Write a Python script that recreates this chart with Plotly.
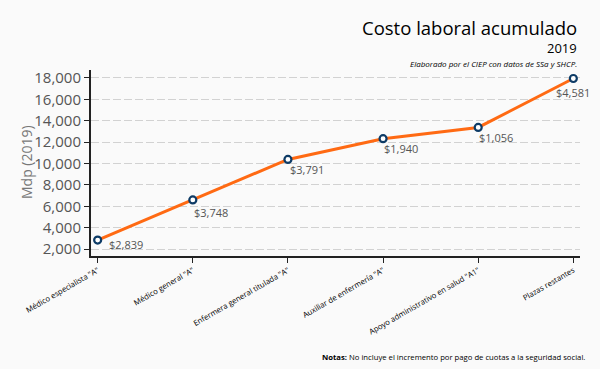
import plotly.graph_objects as go

categories = ['Médico especialista "A"', 'Médico general "A"', 'Enfermera general titulada "A"',
              'Auxiliar de enfermería "A"', 'Apoyo administrativo en salud "A1"', 'Plazas restantes']
increments = [2839, 3748, 3791, 1940, 1056, 4581]
cumulative = [2839, 6587, 10378, 12318, 13374, 17955]
point_labels = ["$2,839", "$3,748", "$3,791", "$1,940", "$1,056", "$4,581"]
y_ticks = [2000, 4000, 6000, 8000, 10000, 12000, 14000, 16000, 18000]

# label placement (style only)
label_anchor = ["left", "left", "left", "left", "left", "center"]
label_xshift = [9, -1, 0, -1, -1, 0]
label_yshift = [-4, -13, -10, -10, -10, -14]

font = "Open Sans"
L, R, T, B = 91, 20, 70, 113
W, H = 600, 369

fig = go.Figure()
fig.add_trace(go.Scatter(
    x=list(range(len(categories))), y=cumulative,
    mode="lines+markers",
    line=dict(color="#ff6a13", width=3),
    marker=dict(size=7, color="white", line=dict(color="#0d3b66", width=2.2)),
    cliponaxis=False, hoverinfo="skip",
))

for i, (v, lab) in enumerate(zip(cumulative, point_labels)):
    fig.add_annotation(x=i, y=v, xref="x", yref="y", text=lab, showarrow=False,
                       xanchor=label_anchor[i], yanchor="middle",
                       xshift=label_xshift[i], yshift=label_yshift[i],
                       font=dict(family=font, size=11, color="#555555"))

fig.update_layout(
    width=W, height=H,
    margin=dict(l=L, r=R, t=T, b=B),
    paper_bgcolor="#fafafa", plot_bgcolor="#fafafa",
    showlegend=False,
    font=dict(family=font),
    xaxis=dict(
        tickmode="array", tickvals=list(range(len(categories))), ticktext=categories,
        range=[-0.07, 5.07], tickangle=-30, automargin=False,
        tickfont=dict(family=font, size=7.7, color="#000000"),
        showline=True, linecolor="#222222", linewidth=2,
        ticks="outside", ticklen=5, tickcolor="#222222",
        showgrid=False, zeroline=False,
    ),
    yaxis=dict(
        range=[1345, 18748], tickvals=y_ticks, tickformat=",d", automargin=False,
        tickfont=dict(family=font, size=15, color="#555555"),
        showline=True, linecolor="#222222", linewidth=2,
        ticks="outside", ticklen=5, tickcolor="#222222",
        showgrid=True, gridcolor="#d2d2d2", griddash="8px,3px", gridwidth=1.2,
        zeroline=False,
    ),
)

pw, ph = W - L - R, H - T - B
def px2paper(px, py):
    return (px - L) / pw, ((H - py) - B) / ph

texts = [
    ("Costo laboral acumulado", 579, 27, 18.5, "#000000", "right", 0),
    ("2019", 579, 48, 13, "#000000", "right", 0),
    ("<i>Elaborado por el CIEP con datos de SSa y SHCP.</i>", 579, 63, 8, "#000000", "right", 0),
    ("<b>Notas:</b> No incluye el incremento por pago de cuotas a la seguridad social.", 587, 357, 7.7, "#000000", "right", 0),
    ("Mdp (2019)", 26, 162, 14, "#777777", "center", -90),
]
for t, px, py, sz, col, anc, ang in texts:
    x, y = px2paper(px, py)
    fig.add_annotation(text=t, x=x, y=y, xref="paper", yref="paper", showarrow=False,
                       xanchor=anc, yanchor="middle", textangle=ang,
                       font=dict(family=font, size=sz, color=col))

fig.write_html("out.html", config={"displayModeBar": False},
               post_script="document.body.style.margin='0';document.body.style.background='#fafafa';")
